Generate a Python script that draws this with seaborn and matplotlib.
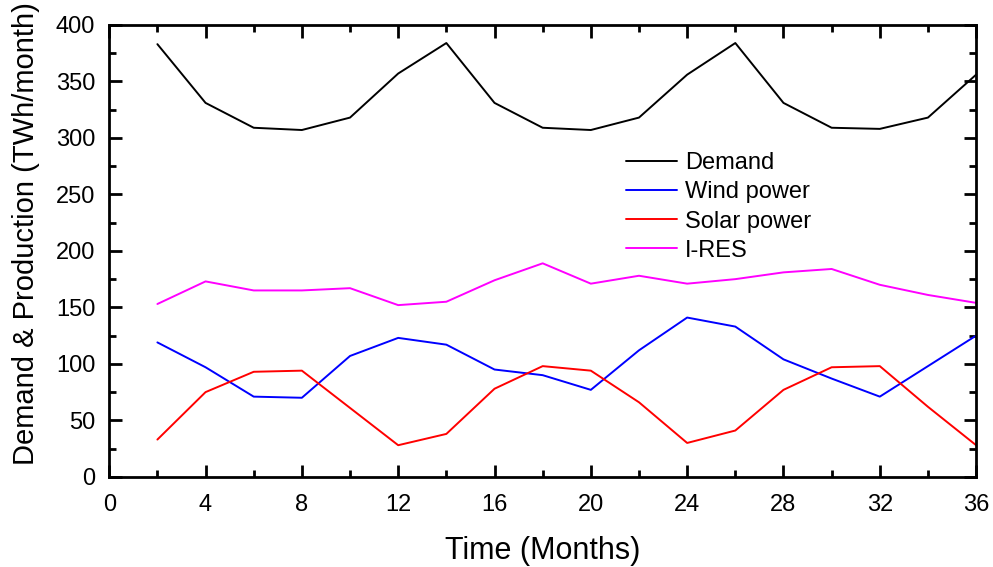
import numpy as np
import pandas as pd
import seaborn as sns
import matplotlib.pyplot as plt
from matplotlib.ticker import MultipleLocator

months = [2, 4, 6, 8, 10, 12, 14, 16, 18, 20, 22, 24, 26, 28, 30, 32, 34, 36]
demand = [383, 331, 309, 307, 318, 357, 384, 331, 309, 307, 318, 356, 384, 331, 309, 308, 318, 356]
wind = [119, 97, 71, 70, 107, 123, 117, 95, 90, 77, 112, 141, 133, 104, 87, 71, 98, 125]
solar = [33, 75, 93, 94, 61, 28, 38, 78, 98, 94, 66, 30, 41, 77, 97, 98, 62, 28]
ires = [153, 173, 165, 165, 167, 152, 155, 174, 189, 171, 178, 171, 175, 181, 184, 170, 161, 154]

series_names = ["Demand", "Wind power", "Solar power", "I-RES"]
series_colors = ["black", "blue", "red", "magenta"]

df = pd.DataFrame({
    "Month": months * 4,
    "Value": demand + wind + solar + ires,
    "Series": np.repeat(series_names, len(months)),
})

sns.set_style("ticks", {"text.color": "black", "axes.labelcolor": "black",
                        "xtick.color": "black", "ytick.color": "black",
                        "axes.edgecolor": "black"})
plt.rcParams['font.family'] = ['Liberation Sans', 'DejaVu Sans']

fig = plt.figure(figsize=(9.93, 5.67), dpi=100)
ax = fig.add_axes([0.110, 0.159, 0.873, 0.797])

sns.lineplot(data=df, x="Month", y="Value", hue="Series", hue_order=series_names,
             palette=dict(zip(series_names, series_colors)), linewidth=1.4, ax=ax)

ax.set_xlim(0, 36)
ax.set_ylim(0, 400)
ax.xaxis.set_major_locator(MultipleLocator(4))
ax.xaxis.set_minor_locator(MultipleLocator(2))
ax.yaxis.set_major_locator(MultipleLocator(50))
ax.yaxis.set_minor_locator(MultipleLocator(25))
ax.tick_params(which="both", direction="in", top=True, right=True, width=2,
               labelsize=17, colors="black")
ax.tick_params(axis="x", which="major", pad=12)
ax.tick_params(axis="y", which="major", pad=10)
ax.tick_params(which="major", length=9)
ax.tick_params(which="minor", length=5)
for s in ax.spines.values():
    s.set_linewidth(2)
    s.set_color("black")

ax.set_xlabel("Time (Months)", fontsize=22, labelpad=15, color="black")
ax.set_ylabel("Demand & Production (TWh/month)", fontsize=21, color="black")
ax.yaxis.set_label_coords(-0.08, 0.538)

leg = ax.legend(loc="upper left", bbox_to_anchor=(0.572, 0.765), frameon=False,
                fontsize=17, handlelength=2.16, labelspacing=0.3, handletextpad=0.34)
for line in leg.get_lines():
    line.set_linewidth(1.4)
for t in leg.get_texts():
    t.set_color("black")

fig.savefig("out.png", dpi=100)
